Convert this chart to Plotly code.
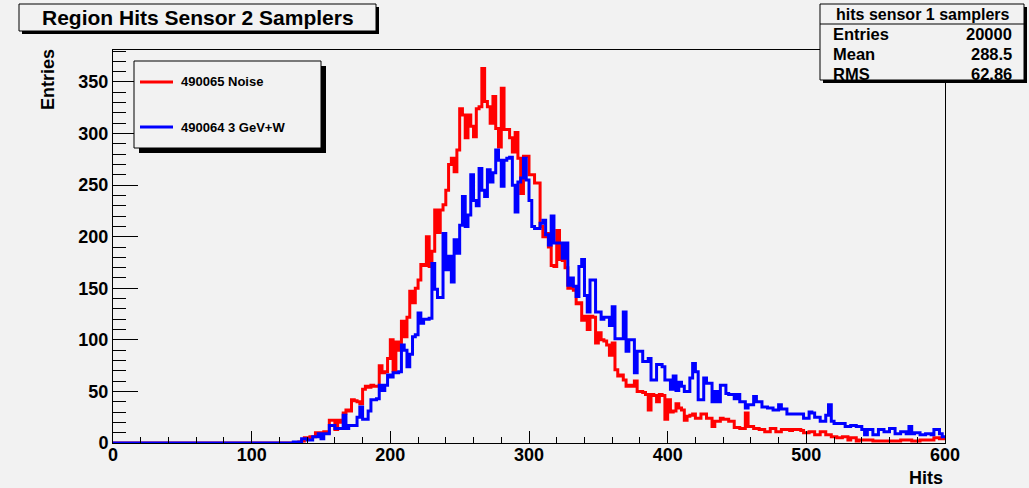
import plotly.graph_objects as go

# ---------------- data (bin width 2, first listed bin starts at 130) ----------------
bin_width = 2
first_edge = 130
x_max = 600

noise_490065 = [
    0, 0, 1, 2, 5, 5, 6, 6, 10, 9,
    10, 11, 10, 22, 22, 13, 22, 20, 29, 32,
    31, 42, 41, 40, 38, 52, 55, 54, 56, 55,
    55, 75, 68, 69, 82, 100, 70, 98, 90, 118,
    103, 122, 147, 136, 150, 158, 173, 172, 200, 171,
    186, 226, 204, 226, 231, 245, 270, 276, 263, 284,
    324, 318, 296, 318, 307, 297, 324, 326, 363, 331,
    326, 310, 336, 305, 287, 344, 304, 304, 296, 282,
    301, 276, 242, 278, 278, 260, 260, 252, 252, 210,
    200, 203, 190, 172, 171, 206, 178, 177, 170, 150,
    152, 148, 135, 136, 119, 123, 110, 123, 122, 97,
    107, 100, 99, 95, 85, 97, 71, 65, 66, 61,
    55, 56, 55, 60, 50, 50, 49, 47, 32, 47,
    46, 40, 47, 46, 23, 42, 30, 31, 38, 34,
    32, 22, 26, 27, 28, 24, 24, 28, 28, 24,
    24, 16, 21, 21, 24, 23, 23, 21, 21, 15,
    15, 14, 14, 29, 16, 16, 14, 14, 13, 13,
    11, 11, 14, 14, 11, 11, 13, 13, 13, 12,
    13, 13, 13, 12, 10, 10, 11, 11, 8, 8,
    11, 11, 8, 8, 6, 6, 5, 5, 6, 6,
    3, 5, 5, 2, 3, 3, 3, 3, 3, 2,
    2, 2, 2, 2, 2, 2, 2, 2, 2, 3,
    3, 3, 3, 2, 2, 2, 3, 3, 3, 3,
    3, 5, 5, 4, 4,
]

beam_490064 = [
    1, 1, 1, 4, 4, 3, 3, 6, 6, 9,
    4, 9, 9, 17, 17, 14, 14, 14, 27, 14,
    17, 17, 17, 25, 35, 23, 23, 31, 42, 42,
    43, 56, 51, 56, 66, 64, 68, 68, 69, 95,
    90, 74, 86, 103, 105, 126, 116, 120, 120, 121,
    174, 149, 141, 141, 203, 168, 181, 156, 197, 184,
    211, 239, 210, 221, 260, 235, 230, 266, 245, 239,
    265, 253, 262, 284, 274, 249, 274, 276, 277, 250,
    224, 253, 257, 276, 255, 235, 210, 208, 208, 213,
    216, 202, 192, 220, 194, 194, 194, 179, 194, 153,
    160, 152, 142, 171, 178, 143, 127, 158, 158, 127,
    127, 120, 122, 122, 114, 132, 101, 101, 101, 127,
    89, 100, 100, 68, 89, 89, 79, 79, 82, 61,
    61, 76, 76, 74, 61, 61, 52, 65, 51, 59,
    55, 50, 50, 63, 77, 69, 42, 42, 63, 58,
    58, 40, 50, 40, 56, 56, 48, 47, 47, 43,
    47, 40, 40, 34, 37, 37, 45, 40, 40, 35,
    35, 34, 34, 32, 32, 37, 33, 33, 28, 28,
    28, 28, 28, 28, 24, 24, 30, 29, 25, 25,
    21, 21, 27, 37, 21, 19, 19, 19, 19, 16,
    16, 17, 17, 16, 16, 13, 8, 13, 13, 8,
    8, 13, 13, 11, 11, 14, 14, 9, 9, 11,
    11, 9, 16, 9, 10, 10, 8, 8, 9, 9,
    8, 13, 13, 9, 6,
]

series_names = ["490065 Noise", "490064 3 GeV+W"]
series_colors = ["#ff0000", "#0000ff"]

title_text = "Region Hits Sensor 2 Samplers"
stats_title = "hits sensor 1 samplers"
stats_labels = ["Entries", "Mean", "RMS"]
stats_values = ["20000", "288.5", "62.86"]

x_ticks = [0, 100, 200, 300, 400, 500, 600]
y_ticks = [0, 50, 100, 150, 200, 250, 300, 350]

# ---------------- figure ----------------
W, H = 1029, 488
L, R, T, B = 113, 945, 50, 443  # plot frame in pixels
BG = "#f2f2f2"
FONT = "Liberation Sans"


def px(x):
    return (x - L) / (R - L)


def py(y):
    return (B - y) / (B - T)


def step_xy(values):
    n_empty = (first_edge - 0) // bin_width
    vals = [0] * n_empty + list(values)
    edges = [i * bin_width for i in range(len(vals) + 1)]
    return edges, vals + [vals[-1]]


fig = go.Figure()
for vals, name, col in zip([noise_490065, beam_490064], series_names, series_colors):
    xs, ys = step_xy(vals)
    fig.add_trace(go.Scatter(x=xs, y=ys, mode="lines", line=dict(color=col, width=3, shape="hv"),
                             name=name, showlegend=False, hoverinfo="skip"))

axis_common = dict(showgrid=False, zeroline=False, showline=True, linecolor="black", linewidth=1,
                   mirror=True, ticks="inside", tickcolor="black", tickwidth=1,
                   tickfont=dict(family=FONT, size=18, color="black", weight="bold"))

fig.update_layout(
    width=W, height=H,
    margin=dict(l=L, r=W - R, t=T, b=H - B, pad=0),
    paper_bgcolor=BG, plot_bgcolor=BG,
    font=dict(family=FONT, color="black", weight="bold"),
    xaxis=dict(range=[0, x_max], tickvals=x_ticks, ticklen=12, ticklabelstandoff=-5,
               minor=dict(dtick=20, ticks="inside", ticklen=6, tickcolor="black", showgrid=False),
               **axis_common),
    yaxis=dict(range=[0, 381], tickvals=y_ticks, ticklen=25, ticklabelstandoff=0,
               minor=dict(dtick=10, ticks="inside", ticklen=13, tickcolor="black", showgrid=False),
               **axis_common),
)

shapes = []
annotations = []


def box(x0, y0, x1, y1, shadow=3):
    shapes.append(dict(type="rect", xref="paper", yref="paper",
                       x0=px(x0 + shadow), x1=px(x1 + shadow), y0=py(y1 + shadow), y1=py(y0 + shadow),
                       fillcolor="black", line=dict(width=0), layer="above"))
    shapes.append(dict(type="rect", xref="paper", yref="paper",
                       x0=px(x0), x1=px(x1), y0=py(y1), y1=py(y0),
                       fillcolor=BG, line=dict(color="black", width=1), layer="above"))


# title box
box(19, 4, 376, 31, shadow=3)
annotations.append(dict(text=title_text, xref="paper", yref="paper", x=px(197.5), y=py(18),
                        xanchor="center", yanchor="middle", showarrow=False,
                        font=dict(family=FONT, size=21, color="black", weight="bold")))

# legend box
box(134, 61, 321, 148, shadow=5)
for i, (name, col) in enumerate(zip(series_names, series_colors)):
    yy = 82 + i * 45
    shapes.append(dict(type="line", xref="paper", yref="paper", x0=px(140), x1=px(173),
                       y0=py(yy), y1=py(yy), line=dict(color=col, width=3), layer="above"))
    annotations.append(dict(text=name, xref="paper", yref="paper", x=px(179), y=py(yy),
                            xanchor="left", yanchor="middle", showarrow=False,
                            font=dict(family=FONT, size=13, color="black", weight="bold")))

# stats box
box(820, 4, 1024, 80, shadow=3)
shapes.append(dict(type="line", xref="paper", yref="paper", x0=px(820), x1=px(1024),
                   y0=py(24), y1=py(24), line=dict(color="black", width=1), layer="above"))
annotations.append(dict(text=stats_title, xref="paper", yref="paper", x=px(923), y=py(14),
                        xanchor="center", yanchor="middle", showarrow=False,
                        font=dict(family=FONT, size=16, color="black", weight="bold")))
for i, (lab, val) in enumerate(zip(stats_labels, stats_values)):
    yy = 34 + i * 20
    annotations.append(dict(text=lab, xref="paper", yref="paper", x=px(831), y=py(yy),
                            xanchor="left", yanchor="middle", showarrow=False,
                            font=dict(family=FONT, size=16.5, color="black", weight="bold")))
    annotations.append(dict(text=val, xref="paper", yref="paper", x=px(1014), y=py(yy),
                            xanchor="right", yanchor="middle", showarrow=False,
                            font=dict(family=FONT, size=16.5, color="black", weight="bold")))

# axis titles
annotations.append(dict(text="Entries", xref="paper", yref="paper", x=px(48), y=py(80),
                        xanchor="center", yanchor="middle", textangle=-90, showarrow=False,
                        font=dict(family=FONT, size=18, color="black", weight="bold")))
annotations.append(dict(text="Hits", xref="paper", yref="paper", x=px(945), y=py(478),
                        xanchor="right", yanchor="middle", showarrow=False,
                        font=dict(family=FONT, size=18, color="black", weight="bold")))

fig.update_layout(shapes=shapes, annotations=annotations)
fig.write_html("out.html")
